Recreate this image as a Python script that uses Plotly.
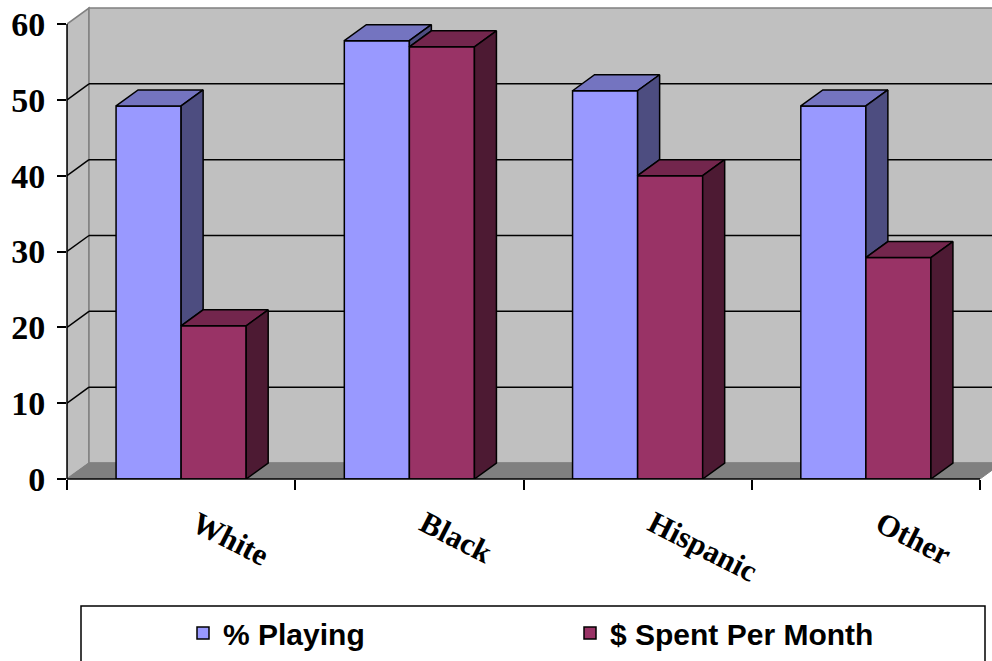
import plotly.graph_objects as go

# ---------------- data ----------------
categories = ["White", "Black", "Hispanic", "Other"]
pct_playing = [49.2, 57.8, 51.2, 49.2]
spent_per_month = [20.2, 57, 40, 29.2]
series_names = ["% Playing", "$ Spent Per Month"]
y_tick_values = [0, 10, 20, 30, 40, 50, 60]

# ---------------- geometry / style ----------------
FIG_W, FIG_H = 992, 661
M_L, M_R, M_T, M_B = 67, 0, 5, 182
PLOT_W = FIG_W - M_L - M_R
PLOT_H = FIG_H - M_T - M_B
PX_PER_CAT = 228.25
PX_PER_UNIT = 7.583
X0 = -0.5
X1 = X0 + PLOT_W / PX_PER_CAT
Y0 = 0.0
Y1 = PLOT_H / PX_PER_UNIT
DX = 22 / PX_PER_CAT        # depth offset (category units)
DY = 16 / PX_PER_UNIT       # depth offset (value units)
BAR_W = 0.285
YMAX = max(y_tick_values)
NCAT = len(categories)

BLUE = "#9999FF"; BLUE_TOP = "#7474C0"; BLUE_SIDE = "#4D4D80"
RED = "#993366"; RED_TOP = "#73264D"; RED_SIDE = "#4D1A33"
WALL = "#C0C0C0"; FLOOR = "#808080"; EDGE = "#808080"
SERIF = "Liberation Serif, Times New Roman, serif"
SANS = "Liberation Sans, Arial, sans-serif"


def px_(x):
    return (x - X0) / (X1 - X0)


def py_(y):
    return (y - Y0) / (Y1 - Y0)


def top_face(xl, h):
    return ([xl, xl + BAR_W, xl + BAR_W + DX, xl + DX, xl],
            [h, h, h + DY, h + DY, h])


def side_face(xr, lo, hi):
    return ([xr, xr + DX, xr + DX, xr, xr],
            [lo, lo + DY, hi + DY, hi, lo])


def polys(items):
    xs, ys = [], []
    for px, py in items:
        xs += px + [None]
        ys += py + [None]
    return xs, ys


xpos = list(range(NCAT))
fig = go.Figure()

# front faces as real bars
fig.add_trace(go.Bar(x=xpos, y=pct_playing, width=BAR_W, offset=-BAR_W,
                     marker=dict(color=BLUE, line=dict(color="black", width=1.5)),
                     name=series_names[0], legend="legend", hoverinfo="skip"))
fig.add_trace(go.Bar(x=xpos, y=spent_per_month, width=BAR_W, offset=0,
                     marker=dict(color=RED, line=dict(color="black", width=1.5)),
                     name=series_names[1], legend="legend2", hoverinfo="skip"))

# 3D top and side faces
blue_tops = [top_face(i - BAR_W, b) for i, b in zip(xpos, pct_playing)]
blue_sides = [side_face(i, min(r, b), b) for i, b, r in zip(xpos, pct_playing, spent_per_month) if b > r]
red_tops = [top_face(i, r) for i, r in zip(xpos, spent_per_month)]
red_sides = [side_face(i + BAR_W, 0, r) for i, r in zip(xpos, spent_per_month)]

for items, col in [(blue_tops, BLUE_TOP), (blue_sides, BLUE_SIDE),
                   (red_tops, RED_TOP), (red_sides, RED_SIDE)]:
    xs, ys = polys(items)
    fig.add_trace(go.Scatter(x=xs, y=ys, mode="lines", fill="toself", fillcolor=col,
                             line=dict(color="black", width=1.5), showlegend=False,
                             hoverinfo="skip"))

shapes = []
XL, XR = X0, X0 + NCAT
# side wall
shapes.append(dict(type="path", layer="below", xref="x", yref="y",
                   path=f"M{XL},{0} L{XL},{YMAX} L{XL+DX},{YMAX+DY} L{XL+DX},{DY} Z",
                   fillcolor=WALL, line=dict(color=EDGE, width=1.5)))
# back wall
shapes.append(dict(type="path", layer="below", xref="x", yref="y",
                   path=f"M{XL+DX},{DY} L{XL+DX},{YMAX+DY} L{XR+DX},{YMAX+DY} L{XR+DX},{DY} Z",
                   fillcolor=WALL, line=dict(color=EDGE, width=1.5)))
# gridlines
for v in y_tick_values[1:-1]:
    shapes.append(dict(type="line", layer="below", xref="x", yref="y",
                       x0=XL, y0=v, x1=XL + DX, y1=v + DY, line=dict(color="black", width=1.5)))
    shapes.append(dict(type="line", layer="below", xref="x", yref="y",
                       x0=XL + DX, y0=v + DY, x1=XR + DX, y1=v + DY, line=dict(color="black", width=1.5)))
# floor
shapes.append(dict(type="path", layer="below", xref="x", yref="y",
                   path=f"M{XL},{0} L{XR},{0} L{XR+DX},{DY} L{XL+DX},{DY} Z",
                   fillcolor=FLOOR, line=dict(color=EDGE, width=1)))
# front axis lines (paper coords, unclipped)
shapes.append(dict(type="line", xref="paper", yref="paper",
                   x0=px_(XL), y0=py_(0), x1=px_(XL), y1=py_(YMAX), line=dict(color="black", width=1.5)))
shapes.append(dict(type="line", xref="paper", yref="paper",
                   x0=px_(XL), y0=py_(0), x1=px_(XR), y1=py_(0), line=dict(color="black", width=1.5)))
# legend box
shapes.append(dict(type="rect", xref="paper", yref="paper",
                   x0=(81 - M_L) / PLOT_W, x1=(985 - M_L) / PLOT_W,
                   y0=-(672 - (M_T + PLOT_H)) / PLOT_H, y1=-(606 - (M_T + PLOT_H)) / PLOT_H,
                   line=dict(color="black", width=1.5), fillcolor="rgba(0,0,0,0)"))

annotations = []
lab_y = -(502 - (M_T + PLOT_H)) / PLOT_H
for i, c in enumerate(categories):
    annotations.append(dict(x=i + 0.01, y=lab_y, xref="x", yref="paper", text=c,
                            showarrow=False, xanchor="left", yanchor="top", textangle=27,
                            font=dict(family=SERIF, size=31, color="black", weight="bold")))

leg_y = -(633 - (M_T + PLOT_H)) / PLOT_H
legfont = dict(family=SANS, size=30, color="black", weight="bold")
fig.update_layout(
    width=FIG_W, height=FIG_H,
    margin=dict(l=M_L, r=M_R, t=M_T, b=M_B, pad=0),
    paper_bgcolor="white", plot_bgcolor="white",
    barmode="overlay",
    xaxis=dict(range=[X0, X1], tickmode="array", tickvals=[i - 0.5 for i in range(NCAT + 1)],
               ticktext=["" for _ in range(NCAT + 1)], ticks="outside", ticklen=10,
               tickwidth=1.5, tickcolor="black", showgrid=False, zeroline=False,
               showline=False, fixedrange=True),
    yaxis=dict(range=[Y0, Y1], tickmode="array", tickvals=y_tick_values,
               ticks="outside", ticklen=9, tickwidth=1.5, tickcolor="black",
               showgrid=False, zeroline=False, showline=False, ticklabelstandoff=5,
               tickfont=dict(family=SERIF, size=34, color="black", weight="bold"),
               fixedrange=True),
    shapes=shapes,
    annotations=annotations,
    legend=dict(x=(183 - M_L) / PLOT_W, y=leg_y, xanchor="left", yanchor="middle",
                bgcolor="rgba(0,0,0,0)", borderwidth=0, font=legfont),
    legend2=dict(x=(570 - M_L) / PLOT_W, y=leg_y, xanchor="left", yanchor="middle",
                 bgcolor="rgba(0,0,0,0)", borderwidth=0, font=legfont),
    showlegend=True,
)

fig.write_html("out.html")
